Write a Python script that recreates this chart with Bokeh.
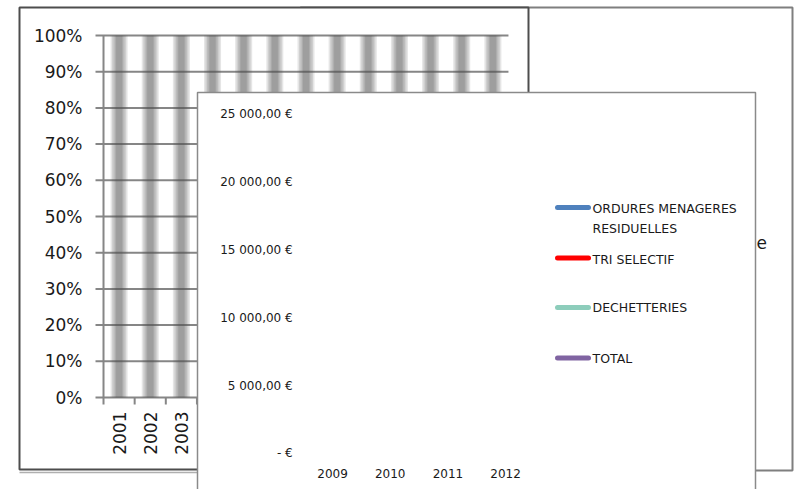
import math
from bokeh.plotting import figure
from bokeh.models import Range1d
from bokeh.core.properties import value
from bokeh.embed import file_html
from bokeh.resources import INLINE

# ---------------- data ----------------
# back chart: 100% stacked columns per year
years_pct = ["2001", "2002", "2003", "2004", "2005", "2006", "2007",
             "2008", "2009", "2010", "2011", "2012", "2013"]
share_pct = [100, 100, 100, 100, 100, 100, 100, 100, 100, 100, 100, 100, 100]
pct_ticks = [0, 10, 20, 30, 40, 50, 60, 70, 80, 90, 100]
pct_labels = ["0%", "10%", "20%", "30%", "40%", "50%", "60%", "70%", "80%", "90%", "100%"]

# front chart: line chart per year (its lines are not rendered in the source)
years_line = ["2009", "2010", "2011", "2012"]
eur_ticks = [0, 5000, 10000, 15000, 20000, 25000]
eur_labels = ["- €", "5 000,00 €", "10 000,00 €", "15 000,00 €", "20 000,00 €", "25 000,00 €"]
series_names = ["ORDURES MENAGERES\nRESIDUELLES", "TRI SELECTIF", "DECHETTERIES", "TOTAL"]
series_colors = ["#4F81BD", "#FF0000", "#8DCDBB", "#8064A2"]

FONT = value("DejaVu Sans")
W, H = 796, 489

p = figure(width=W, height=H, output_backend="svg", toolbar_location=None,
           x_range=Range1d(0, W), y_range=Range1d(H, 0),
           x_axis_type=None, y_axis_type=None, min_border=0,
           outline_line_color=None, background_fill_color="white",
           border_fill_color="white")
p.grid.visible = False

PX1 = 31.15   # px per category, back chart
PX3 = 57.7    # px per category, front chart
p.extra_x_ranges = {"c1": Range1d(-3.307, 22.247), "c3": Range1d(-5.254, 8.541)}
p.extra_y_ranges = {"pct": Range1d(-25.41, 109.67), "eur": Range1d(-2655, 33407)}

# ---------------- chart 2 (right, background) frame ----------------
p.quad(left=[300], right=[792], top=[7], bottom=[470], fill_color="white",
       line_color="#7f7f7f", line_width=2)

# ---------------- chart 1 (100% stacked columns) ----------------
p.segment(x0=[19], x1=[197], y0=[472], y1=[472], line_color="#b0b0b0", line_width=1.5)
p.quad(left=[19], right=[528], top=[7], bottom=[469], fill_color="white",
       line_color="#4d4d4d", line_width=2)

c1 = dict(x_range_name="c1", y_range_name="pct")
# gridlines (with tick marks)
p.segment(x0=[-8 / PX1] * len(pct_ticks), x1=[13] * len(pct_ticks),
          y0=pct_ticks, y1=pct_ticks, line_color="#868686", line_width=2, **c1)
# axis line
p.segment(x0=[0], x1=[0], y0=[0], y1=[100], line_color="#868686", line_width=2, **c1)
# category ticks
p.ray(x=list(range(len(years_pct) + 1)), y=[0] * (len(years_pct) + 1), length=7,
      length_units="screen", angle=-math.pi / 2, line_color="#868686", line_width=2, **c1)

# blurred grey columns
xc = [i + 0.5 for i in range(len(years_pct))]
for w in [17, 14, 11, 8, 6]:
    p.vbar(x=xc, top=share_pct, bottom=0, width=w / PX1, fill_color="#505050",
           fill_alpha=0.15, line_color=None, **c1)

# y tick labels
p.text(x=[0] * len(pct_ticks), y=pct_ticks, text=pct_labels, x_offset=-21,
       text_align="right", text_baseline="middle", text_color="#1a1a1a",
       text_font=FONT, text_font_size=value("17px"), **c1)
# x tick labels (rotated)
p.text(x=xc, y=[0] * len(xc), text=years_pct, angle=math.pi / 2, y_offset=14,
       text_align="right", text_baseline="middle", text_color="#1a1a1a",
       text_font=FONT, text_font_size=value("17px"), **c1)

# fragment of chart 2 text peeking out
p.text(x=[756], y=[242], text=["e"], text_align="left", text_baseline="middle",
       text_color="#1a1a1a", text_font=FONT, text_font_size=value("17px"))

# ---------------- chart 3 (front line chart) ----------------
p.quad(left=[197], right=[755], top=[92], bottom=[500], fill_color="white",
       line_color="#8a8a8a", line_width=1.5)

c3 = dict(x_range_name="c3", y_range_name="eur")
p.text(x=[0] * len(eur_ticks), y=eur_ticks, text=eur_labels, x_offset=-11,
       text_align="right", text_baseline="middle", text_color="#1a1a1a",
       text_font=FONT, text_font_size=value("12px"), **c3)
p.text(x=[i + 0.5 for i in range(len(years_line))], y=[0] * len(years_line),
       text=years_line, y_offset=20, text_align="center", text_baseline="middle",
       text_color="#1a1a1a", text_font=FONT, text_font_size=value("12px"), **c3)

# legend
leg_line_y = [207, 257.5, 307, 357.5]
leg_text_y = [218, 259, 307, 357.7]
p.segment(x0=[557] * 4, x1=[588] * 4, y0=leg_line_y, y1=leg_line_y,
          line_color=series_colors, line_width=5, line_cap="round")
p.text(x=[592] * 4, y=leg_text_y, text=series_names, text_align="left",
       text_baseline="middle", text_line_height=1.33, text_color="#1a1a1a",
       text_font=FONT, text_font_size=value("12.5px"))

open("out.html", "w").write(file_html(p, INLINE))
